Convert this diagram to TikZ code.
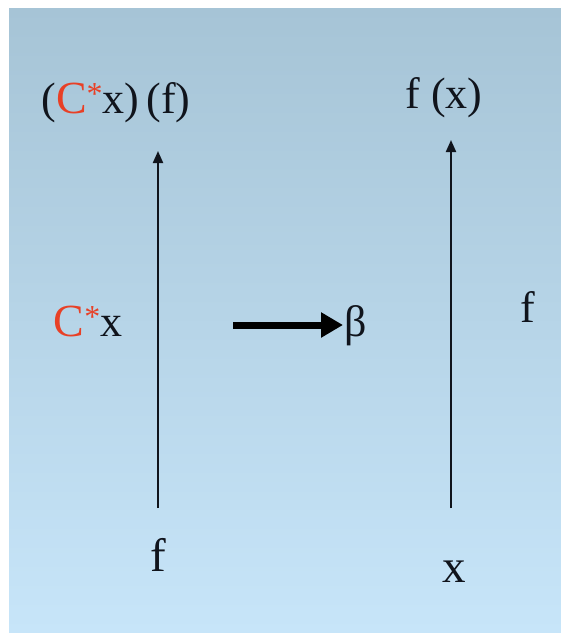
\documentclass[tikz,border=0pt]{standalone}
\usepackage{fontspec}
\setmainfont{Liberation Serif}
\newfontfamily\tms{Liberation Serif}
\usetikzlibrary{arrows.meta}
\definecolor{bgtop}{RGB}{166,196,214}
\definecolor{bgbot}{RGB}{199,229,249}
\definecolor{cred}{RGB}{232,64,38}
\definecolor{ink}{RGB}{16,20,28}
\newcommand{\cstar}{\textcolor{cred}{{\fontsize{46}{50}\selectfont C}\raisebox{9pt}{\fontsize{32}{32}\selectfont *}}}
\begin{document}
\begin{tikzpicture}[x=1pt,y=-1pt,
  lbl/.style={inner sep=0pt, anchor=base, text=ink, font=\tms\fontsize{44}{50}\selectfont},
  biglbl/.style={lbl, font=\tms\fontsize{47}{54}\selectfont},
  thin/.style={draw=ink, line width=2pt, -{Triangle[length=12pt,width=10pt]}},
  thick/.style={draw=black, line width=7pt, -{Triangle[length=22pt,width=24pt]}}]
\useasboundingbox (0,0) rectangle (561,633);
\fill[white] (0,0) rectangle (561,633);
\shade[top color=bgtop, bottom color=bgbot] (9,8) rectangle (561,633);
% labels
\node[lbl] (tl) at (116,113) {(\cstar x)\,(f)};
\node[lbl] (tr) at (444,108) {f (x)};
\node[lbl] (ml) at (88,336) {\cstar x};
\node[lbl, anchor=base west] (beta) at (344,336) {β};
\node[lbl] (rf) at (528,322) {f};
\node[biglbl] (bf) at (158,571) {f};
\node[biglbl] (bx) at (454,582) {x};
% connectors
\coordinate (lb) at (158,508);
\coordinate (lt) at (158,151);
\coordinate (rb) at (451,508);
\coordinate (rt) at (451,140);
\coordinate (as) at (233,325);
\coordinate (ae) at (343,325);
\draw[thin] (lb) -- (lt);
\draw[thin] (rb) -- (rt);
\draw[thick] (as) -- (ae);
\end{tikzpicture}
\end{document}
